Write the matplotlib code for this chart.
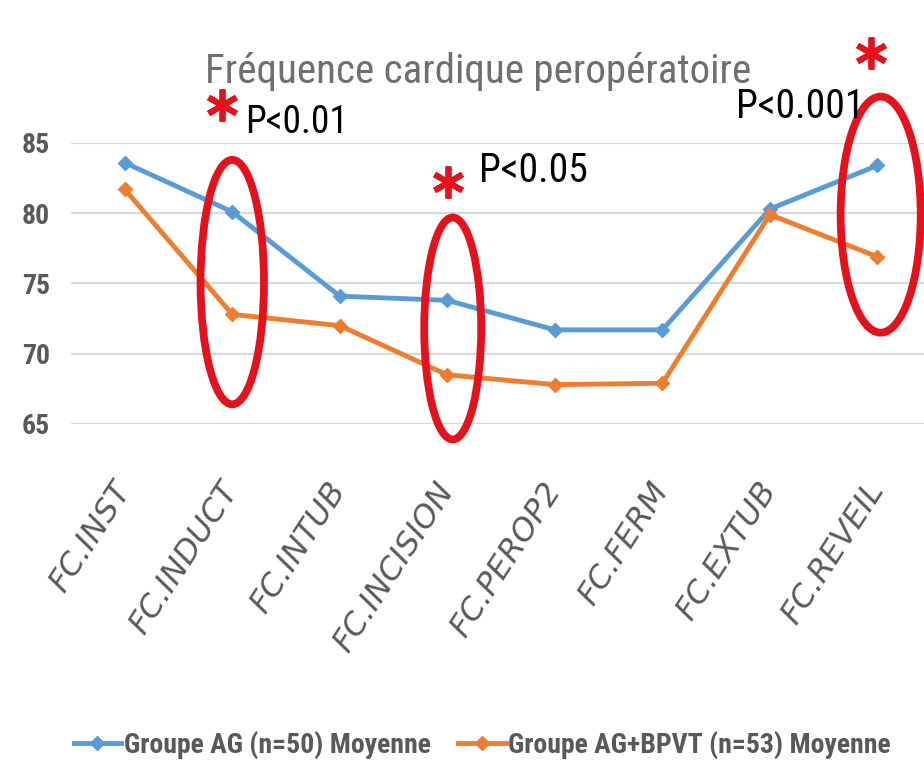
"""Fréquence cardique peropératoire — line chart with significance markers."""

import matplotlib

matplotlib.use("Agg")
import matplotlib.pyplot as plt  # noqa: E402
from matplotlib import font_manager  # noqa: E402
from matplotlib.lines import Line2D  # noqa: E402
from matplotlib.patches import Ellipse  # noqa: E402

# data
categories = ["FC.INST", "FC.INDUCT", "FC.INTUB", "FC.INCISION",
              "FC.PEROP2", "FC.FERM", "FC.EXTUB", "FC.REVEIL"]
ag_mean = [83.6, 80.1, 74.1, 73.8, 71.7, 71.7, 80.3, 83.4]
ag_bpvt_mean = [81.7, 72.8, 72.0, 68.5, 67.8, 67.9, 79.9, 76.9]
series_labels = ["Groupe AG (n=50) Moyenne", "Groupe AG+BPVT (n=53) Moyenne"]
y_ticks = [65, 70, 75, 80, 85]
title = "Fréquence cardique peropératoire"

# significance annotations: category index, p-value label
sig_idx = [1, 3, 7]
sig_text = ["P<0.01", "P<0.05", "P<0.001"]

BLUE = "#5b9bd5"
ORANGE = "#ed7d31"
RED = "#e3121c"
GREY = "#595959"

available = {f.name for f in font_manager.fontManager.ttflist}
FONT = "Liberation Sans"
for cand in ["Roboto Condensed", "Liberation Sans Narrow", "DejaVu Sans Condensed"]:
    if cand in available:
        FONT = cand
        break
narrow = FONT != "Liberation Sans"
k = 1.0 if narrow else 0.83  # shrink text when no condensed face is around

fig = plt.figure(figsize=(9.24, 7.63), dpi=100)
ax = fig.add_axes([0.0768, 0.4443, 0.931, 0.3683])

x = list(range(len(categories)))
ax.plot(x, ag_mean, color=BLUE, lw=3.5, marker="D", ms=7.5, label=series_labels[0], zorder=3)
ax.plot(x, ag_bpvt_mean, color=ORANGE, lw=3.5, marker="D", ms=7.5, label=series_labels[1], zorder=3)

ax.set_xlim(-0.5, 7.5)
ax.set_ylim(65, 85)
ax.set_yticks(y_ticks)
ax.grid(True, axis="y", color="#d9d9d9", lw=1.6)
ax.set_axisbelow(True)
for s in ax.spines.values():
    s.set_visible(False)
ax.tick_params(axis="both", length=0)
ax.tick_params(axis="y", pad=15)
ax.tick_params(axis="x", pad=44)
ax.set_xticks(x)
# slanted face: matplotlib ships DejaVu Sans Oblique
ax.set_xticklabels(categories, rotation=57, ha="right", va="center",
                   rotation_mode="anchor", style="oblique",
                   fontsize=23, color=GREY, family="DejaVu Sans")
for lbl in ax.get_yticklabels():
    lbl.set(fontsize=20, fontweight="bold", color=GREY, family=FONT)

# red ellipses around significant points
ell_cy = [75.1, 71.8, 79.9]
ell_w = [0.59, 0.53, 0.745]
ell_h = [17.4, 15.8, 16.8]
ell_dx = [0.0, 0.05, 0.03]
for i, cy, w, h, dx in zip(sig_idx, ell_cy, ell_w, ell_h, ell_dx):
    ax.add_patch(Ellipse((i + dx, cy), w, h, fill=False, ec=RED, lw=5.6,
                         clip_on=False, zorder=4))

# asterisks and p-values
star_dx = [-0.10, 0.01, -0.06]
star_y = [87.7, 82.2, 91.4]
txt_dx = [0.12, 0.29, -1.32]
txt_y = [85.7, 82.2, 86.8]
txt_size = [27 * k, 28.5 * k, 28.5 * k]
for i, sdx, sy, tdx, ty, t, fs in zip(sig_idx, star_dx, star_y, txt_dx, txt_y, sig_text, txt_size):
    ax.plot([i + sdx], [sy], ls="none", marker=(6, 2, 0), ms=23, mew=4.2,
            color=RED, clip_on=False, zorder=5)
    ax.text(i + tdx, ty, t, ha="left", va="baseline", fontsize=fs,
            color="black", family=FONT, clip_on=False, zorder=5)

fig.text(0.517, 0.891, title, ha="center", va="baseline", fontsize=29.5 if narrow else 26,
         color="#6f6f6f", family=FONT)

handles = [Line2D([], [], color=BLUE, lw=3.5, marker="D", ms=7.5),
           Line2D([], [], color=ORANGE, lw=3.5, marker="D", ms=7.5)]
fig.legend(handles, series_labels, loc="center", bbox_to_anchor=(0.522, 0.024),
           ncol=2, frameon=False, handlelength=1.7, handletextpad=0.1,
           columnspacing=1.0,
           prop={"family": FONT, "weight": "bold", "size": 20 if narrow else 17},
           labelcolor=GREY)

fig.savefig("out.png", dpi=100)
